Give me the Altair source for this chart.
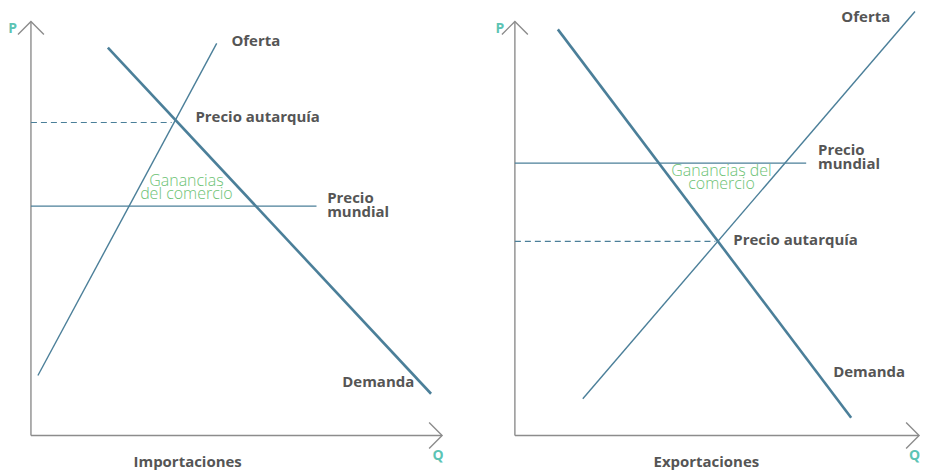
import altair as alt
import pandas as pd

# ---- Importaciones (left) : Q / P in abstract units ----
imp_demand_q = [18.8, 97.8]
imp_demand_p = [93.7, 10.1]
imp_supply_q = [1.7, 45.4]
imp_supply_p = [14.5, 94.7]
imp_world_q = [0, 69.8]
imp_world_p = [55.4, 55.4]
imp_autarky_q = [0, 34.4]
imp_autarky_p = [75.6, 75.6]
imp_axis_x_end = 100.5

# ---- Exportaciones (right) ----
exp_demand_q = [10.5, 82.2]
exp_demand_p = [98.1, 4.3]
exp_supply_q = [16.6, 97.8]
exp_supply_p = [8.9, 102.4]
exp_world_q = [0, 71.2]
exp_world_p = [65.8, 65.8]
exp_autarky_q = [0, 49.0]
exp_autarky_p = [46.9, 46.9]
exp_axis_x_end = 98.8

axis_y_end = 100.0

# labels: text, q, p  (multi-line texts use "\n"; p is the first line)
imp_bold = [("Oferta", 49.0, 95.3), ("Precio autarquía", 40.2, 76.9), ("Demanda", 76.1, 12.9)]
imp_bold2 = [("Precio\nmundial", 72.4, 57.3)]
imp_green = [("Ganancias\ndel comercio", 38.0, 61.4)]
imp_title = [("Importaciones", 38.3, -6.3)]
imp_pq = [("P", -4.5, 98.3), ("Q", 99.5, -5.0)]

exp_bold = [("Oferta", 79.8, 101.0), ("Precio autarquía", 53.4, 47.2), ("Demanda", 77.8, 15.3)]
exp_bold2 = [("Precio\nmundial", 74.1, 69.0)]
exp_green = [("Ganancias del\ncomercio", 50.5, 63.8)]
exp_title = [("Exportaciones", 46.8, -6.3)]
exp_pq = [("P", -3.7, 98.3), ("Q", 97.7, -5.0)]

BLUE = "#4b7f99"
GRAY_AX = "#8c8c8c"
TXT = "#555555"
GREEN = "#6cc274"
TEAL = "#5cc4b4"

PXQ = 4.1
PXP = 4.15


def seg(rows, name, qs, ps):
    for i, (q, p) in enumerate(zip(qs, ps)):
        rows.append({"series": name, "q": q, "p": p, "o": i})


def panel(dq, dp, sq, sp, wq, wp, aq, ap, xend, bold, bold2, green, title, pq,
          width, xmin, xmax, ymin, ymax, height):
    rows = []
    seg(rows, "demand", dq, dp)
    seg(rows, "supply", sq, sp)
    seg(rows, "world", wq, wp)
    seg(rows, "autarky", aq, ap)
    seg(rows, "yaxis", [0, 0], [0, axis_y_end])
    seg(rows, "yhead", [-13 / PXQ, 0, 13 / PXQ], [axis_y_end - 13 / PXP, axis_y_end, axis_y_end - 13 / PXP])
    seg(rows, "xaxis", [0, xend], [0, 0])
    seg(rows, "xhead", [xend - 13 / PXQ, xend, xend - 13 / PXQ], [13 / PXP, 0, -13 / PXP])
    df = pd.DataFrame(rows)

    xs = alt.Scale(domain=[xmin, xmax], nice=False, zero=False)
    ys = alt.Scale(domain=[ymin, ymax], nice=False, zero=False)
    X = alt.X("q:Q", scale=xs, axis=None)
    Y = alt.Y("p:Q", scale=ys, axis=None)

    base = alt.Chart(df).encode(x=X, y=Y, order="o:Q", detail="series:N")

    def lines(names, **kw):
        return base.transform_filter(alt.FieldOneOfPredicate(field="series", oneOf=names)).mark_line(**kw)

    layers = [
        lines(["yaxis", "yhead", "xaxis", "xhead"], color=GRAY_AX, strokeWidth=1.4, clip=False),
        lines(["world"], color=BLUE, strokeWidth=1.4, clip=False),
        lines(["autarky"], color=BLUE, strokeWidth=1.2, strokeDash=[6, 4], clip=False),
        lines(["supply"], color=BLUE, strokeWidth=1.4, clip=False),
        lines(["demand"], color=BLUE, strokeWidth=2.6, clip=False),
    ]

    def texts(items, align, color, size, weight, lh=None):
        tdf = pd.DataFrame([{"t": t, "q": q, "p": p} for t, q, p in items])
        kw = dict(align=align, baseline="middle", color=color, fontSize=size,
                  fontWeight=weight, font="Open Sans", clip=False)
        if lh is not None:
            kw.update(lineBreak="\n", lineHeight=lh)
        return alt.Chart(tdf).mark_text(**kw).encode(
            x=alt.X("q:Q", scale=xs, axis=None),
            y=alt.Y("p:Q", scale=ys, axis=None),
            text="t:N")

    layers += [
        texts(bold, "left", TXT, 15, "bold"),
        texts(bold2, "left", TXT, 15, "bold", 13.7),
        texts(green, "center", GREEN, 16, 300, 12.8),
        texts(title, "center", TXT, 15, "bold"),
        texts(pq, "center", TEAL, 14, "bold"),
    ]
    return alt.layer(*layers).properties(width=width, height=height)


H = 462
ymax = (435 - 8) / PXP
ymin = (435 - 8 - H) / PXP

WL = 485
WR = 429  # total width 914 = 930 - 2*8, so the page never rescales the chart
xminL = (8 - 31) / PXQ
xmaxL = (8 + WL - 31) / PXQ
xminR = (8 + WL - 516) / PXQ
xmaxR = (8 + WL + WR - 516) / PXQ

left = panel(imp_demand_q, imp_demand_p, imp_supply_q, imp_supply_p, imp_world_q, imp_world_p,
             imp_autarky_q, imp_autarky_p, imp_axis_x_end, imp_bold, imp_bold2, imp_green, imp_title, imp_pq,
             WL, xminL, xmaxL, ymin, ymax, H)
right = panel(exp_demand_q, exp_demand_p, exp_supply_q, exp_supply_p, exp_world_q, exp_world_p,
              exp_autarky_q, exp_autarky_p, exp_axis_x_end, exp_bold, exp_bold2, exp_green, exp_title, exp_pq,
              WR, xminR, xmaxR, ymin, ymax, H)

chart = alt.hconcat(left, right, spacing=0).properties(padding=0).configure_view(stroke=None)
chart.save("out.html", embed_options={"renderer": "svg", "actions": False})
